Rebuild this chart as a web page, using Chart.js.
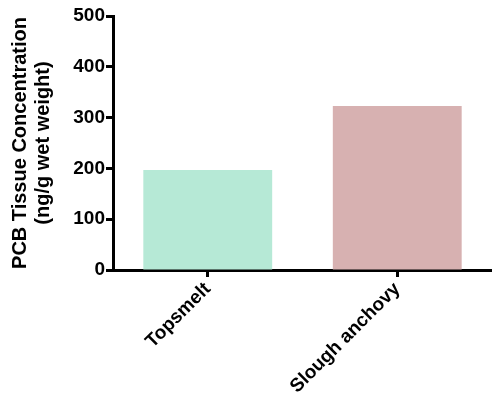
<!DOCTYPE html>
<html>
<head>
<meta charset="utf-8">
<script src="https://cdn.jsdelivr.net/npm/chart.js@4"></script>
<style>
  body { margin: 0; background: #fff; }
</style>
</head>
<body>
<canvas id="chart" width="492" height="400"></canvas>
<script>
const species = ['Topsmelt', 'Slough anchovy']
const pcbConc = [197, 323]
const barColors = ['#b6e9d6', '#d7b1b1']
const yTicks = [0, 100, 200, 300, 400, 500]

const fontFamily = "'Liberation Sans', Arial, sans-serif"

const ctx = document.getElementById('chart');
const chart = new Chart(ctx, {
  type: 'bar',
  data: {
    labels: species,
    datasets: [{
      data: pcbConc,
      backgroundColor: barColors,
      borderWidth: 0,
      categoryPercentage: 1,
      barPercentage: 0.68
    }]
  },
  options: {
    responsive: false,
    animation: false,
    layout: { padding: { left: 0, right: 0, top: 16, bottom: 0 } },
    plugins: { legend: { display: false }, tooltip: { enabled: false } },
    scales: {
      x: {
        grid: { display: true, drawOnChartArea: false, offset: false, tickLength: 7, tickWidth: 3, tickColor: '#000' },
        border: { display: true, color: '#000', width: 3 },
        ticks: {
          color: '#000',
          font: { family: fontFamily, size: 19, weight: 'bold' },
          minRotation: 45,
          maxRotation: 45,
          padding: 1
        },
        afterFit: (axis) => { axis.height = 130 }
      },
      y: {
        min: 0,
        max: 500,
        afterBuildTicks: (axis) => { axis.ticks = yTicks.map(v => ({ value: v })) },
        grid: { display: true, drawOnChartArea: false, tickLength: 7, tickWidth: 3, tickColor: '#000' },
        border: { display: true, color: '#000', width: 3 },
        ticks: {
          color: '#000',
          font: { family: fontFamily, size: 19, weight: 'bold' },
          padding: 1
        },
        title: {
          display: true,
          text: ['PCB Tissue Concentration', '(ng/g wet weight)'],
          color: '#000',
          font: { family: fontFamily, size: 20, weight: 'bold', lineHeight: 1.15 },
          padding: { top: 9, bottom: 0 }
        },
        afterFit: (axis) => { axis.width = 113 }
      }
    }
  }
});
</script>
</body>
</html>
